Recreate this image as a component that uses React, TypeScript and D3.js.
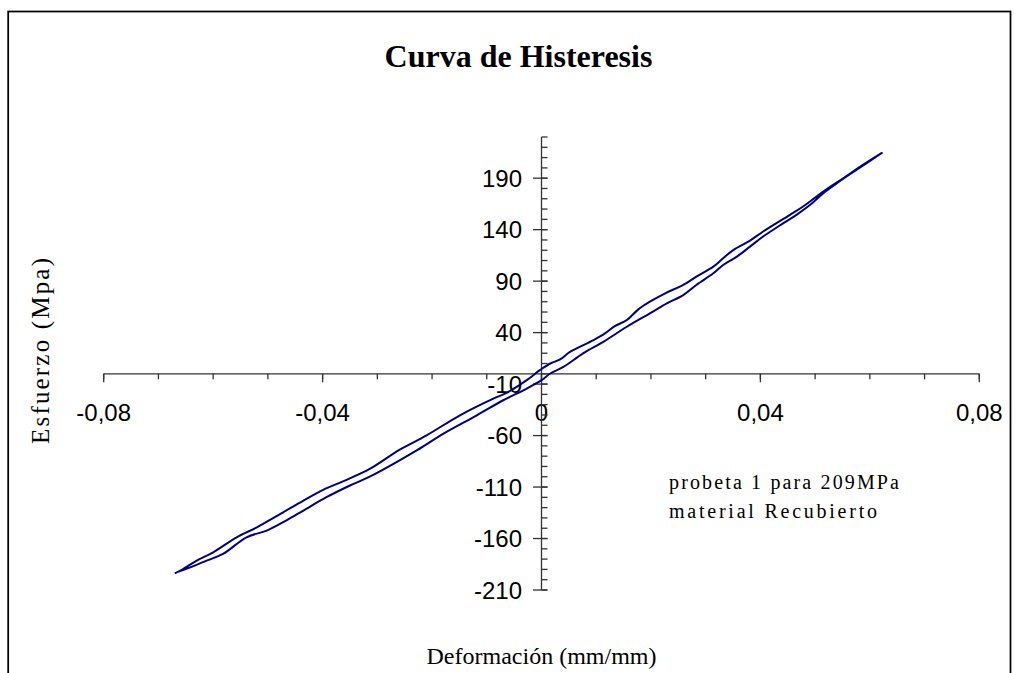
import React from "react";
import * as d3 from "d3";

// Loading branch (lower/right line), strain (mm/mm) and stress (MPa)
const loadStrain = [-0.0667, -0.0642, -0.0612, -0.0582, -0.0539, -0.0502, -0.0466, -0.0435, -0.0393, -0.035, -0.0313, -0.0228, -0.0179, -0.0118, -0.007, -0.0027, 0.0, 0.0016, 0.004, 0.0076, 0.0113, 0.0156, 0.0198, 0.0229, 0.0259, 0.0283, 0.0314, 0.0332, 0.0357, 0.0381, 0.0405, 0.0442, 0.0466, 0.0491, 0.0515, 0.054, 0.0576, 0.0622];
const loadStress = [-192.9, -188.0, -181.5, -175.0, -158.8, -152.3, -142.4, -132.8, -119.9, -108.5, -99.7, -74.4, -58.1, -40.3, -25.7, -14.3, -6.2, 0.3, 6.7, 19.8, 31.1, 45.7, 58.7, 68.4, 76.5, 86.3, 97.6, 105.7, 113.8, 123.5, 133.3, 146.3, 154.4, 164.1, 175.5, 185.2, 198.2, 214.5];

// Unloading branch (upper/left line)
const unloadStrain = [0.0622, 0.0588, 0.0552, 0.0515, 0.0478, 0.0454, 0.0405, 0.0381, 0.0351, 0.0332, 0.0314, 0.0283, 0.0259, 0.0226, 0.0198, 0.0177, 0.0156, 0.0134, 0.0116, 0.0095, 0.0052, 0.0034, 0.0016, -0.0003, -0.0027, -0.0064, -0.0088, -0.0149, -0.021, -0.0259, -0.0313, -0.0356, -0.0399, -0.0435, -0.0477, -0.052, -0.0557, -0.06, -0.063, -0.0655, -0.067];
const unloadStress = [214.5, 203.1, 190.2, 177.1, 162.5, 154.4, 138.2, 129.4, 120.4, 112.3, 104.1, 94.4, 86.3, 78.2, 70.0, 62.6, 52.2, 46.3, 39.2, 32.7, 21.3, 13.9, 10.0, 3.5, -6.2, -18.6, -24.1, -40.3, -59.8, -73.7, -92.2, -103.0, -112.7, -123.1, -136.1, -149.1, -158.8, -173.4, -181.5, -189.6, -193.9];

const xMajorTicks = [-0.08, -0.04, 0, 0.04, 0.08];
const xTickLabels = ["-0,08", "-0,04", "0", "0,04", "0,08"];
const xMinorStep = 0.01;
const yMajorTicks = [-210, -160, -110, -60, -10, 40, 90, 140, 190];
const yMinorStep = 10;

const title = "Curva de Histeresis";
const xTitle = "Deformación (mm/mm)";
const yTitle = "Esfuerzo (Mpa)";
const noteLines = ["probeta 1 para 209MPa", "material Recubierto"];
const noteWidths = [230, 208];

export default function App() {
  const x = d3.scaleLinear().domain([-0.08, 0.08]).range([103.7, 979.3]);
  const y = d3.scaleLinear().domain([-210, 230]).range([590, 137]);

  const pts: [number, number][] = [];
  loadStrain.forEach((s, i) => pts.push([s, loadStress[i]]));
  unloadStrain.forEach((s, i) => pts.push([s, unloadStress[i]]));

  const line = d3
    .line<[number, number]>()
    .x((d) => x(d[0]))
    .y((d) => y(d[1]))
    .curve(d3.curveCatmullRom.alpha(0.5));

  const xMinor = d3.range(-8, 9).map((k) => k * xMinorStep);
  const yMinor = d3.range(-21, 24).map((k) => k * yMinorStep);

  const x0 = x(0);
  const y0 = y(0);
  const axisColor = "#333";
  const serif = "'Liberation Serif', 'Times New Roman', serif";
  const sans = "'Liberation Sans', Arial, sans-serif";

  return (
    <svg
      width={1015}
      height={673}
      style={{ position: "absolute", left: 0, top: 0, background: "#fff" }}
    >
      <rect x={0} y={0} width={1015} height={673} fill="#fff" />
      <rect x={8.2} y={11.5} width={1002.3} height={700} fill="none" stroke="#000" strokeWidth={1.75} />

      <text x={518.5} y={67} textAnchor="middle" fontFamily={serif} fontWeight="bold" fontSize={32} fill="#000">
        {title}
      </text>

      {/* x axis */}
      <line x1={x(-0.08)} x2={x(0.08)} y1={y0} y2={y0} stroke={axisColor} strokeWidth={1.3} />
      {xMinor.map((t) => (
        <line key={"xm" + t} x1={x(t)} x2={x(t)} y1={y0} y2={y0 + 5.5} stroke={axisColor} strokeWidth={1.3} />
      ))}
      {xMajorTicks.map((t) => (
        <line key={"xM" + t} x1={x(t)} x2={x(t)} y1={y0} y2={y0 + 8.5} stroke={axisColor} strokeWidth={1.3} />
      ))}
      {xMajorTicks.map((t, i) => (
        <text key={"xl" + t} x={x(t)} y={421} textAnchor="middle" fontFamily={sans} fontSize={24} fill="#000">
          {xTickLabels[i]}
        </text>
      ))}

      {/* y axis */}
      <line x1={x0} x2={x0} y1={y(230)} y2={y(-210)} stroke={axisColor} strokeWidth={1.3} />
      {yMinor.map((t) => (
        <line key={"ym" + t} x1={x0} x2={x0 + 6} y1={y(t)} y2={y(t)} stroke={axisColor} strokeWidth={1.3} />
      ))}
      {yMajorTicks.map((t) => (
        <line key={"yM" + t} x1={x0 - 8.5} x2={x0 + 6} y1={y(t)} y2={y(t)} stroke={axisColor} strokeWidth={1.3} />
      ))}
      {yMajorTicks.map((t) => (
        <text key={"yl" + t} x={522} y={y(t) + 8.5} textAnchor="end" fontFamily={sans} fontSize={24} fill="#000">
          {String(t)}
        </text>
      ))}

      {/* curve */}
      <path d={line(pts) || ""} fill="none" stroke="#000080" strokeWidth={2} strokeLinejoin="round" />

      {/* axis titles */}
      <text
        transform="translate(49,351) rotate(-90)"
        textAnchor="middle"
        fontFamily={serif}
        fontSize={25}
        textLength={186}
        lengthAdjust="spacing"
        fill="#000"
      >
        {yTitle}
      </text>
      <text x={541.5} y={664} textAnchor="middle" fontFamily={serif} fontSize={24} fill="#000">
        {xTitle}
      </text>

      {/* annotation */}
      {noteLines.map((s, i) => (
        <text
          key={s}
          x={669}
          y={489 + i * 29}
          fontFamily={serif}
          fontSize={20}
          textLength={noteWidths[i]}
          lengthAdjust="spacing"
          fill="#000"
        >
          {s}
        </text>
      ))}
    </svg>
  );
}
